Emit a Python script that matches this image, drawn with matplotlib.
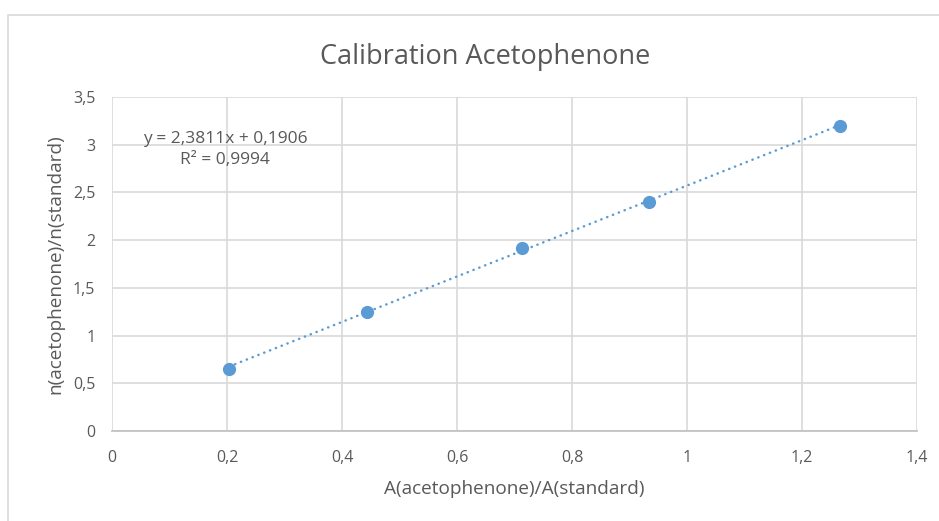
import matplotlib.pyplot as plt
import numpy as np
from matplotlib.ticker import FuncFormatter, MultipleLocator
from matplotlib.patches import Rectangle

plt.rcParams['font.family'] = ['Open Sans', 'DejaVu Sans']

# data
area_ratio = [0.204, 0.443, 0.713, 0.934, 1.266]
mol_ratio = [0.65, 1.25, 1.92, 2.40, 3.20]
slope = 2.3811
intercept = 0.1906
r2 = 0.9994

grey = '#595959'
blue = '#5B9BD5'

def comma(v, pos):
    s = ('%.1f' % v).rstrip('0').rstrip('.')
    return s.replace('.', ',')

fig = plt.figure(figsize=(9.39, 5.21), dpi=100)
ax = fig.add_axes([112/939, 1-431/521, (917-112)/939, (431-97)/521])

# outer chart border (only left/top visible in the crop)
fig.patches.append(Rectangle((8/939, -0.2), 2, 1.2-15/521, transform=fig.transFigure,
                             fill=False, edgecolor='#D9D9D9', linewidth=1.2))

x = np.array(area_ratio)
xs = np.array([x.min(), x.max()])
ax.plot(xs, slope*xs + intercept, linestyle=(0, (0.1, 2.4)), color=blue, linewidth=1.8,
        dash_capstyle='round', zorder=2)
ax.plot(area_ratio, mol_ratio, 'o', color=blue, markersize=8.5, zorder=3)

ax.set_xlim(0, 1.4)
ax.set_ylim(0, 3.5)
ax.xaxis.set_major_locator(MultipleLocator(0.2))
ax.yaxis.set_major_locator(MultipleLocator(0.5))
ax.xaxis.set_major_formatter(FuncFormatter(comma))
ax.yaxis.set_major_formatter(FuncFormatter(comma))
ax.grid(True, color='#D9D9D9', linewidth=1.2)
ax.set_axisbelow(True)
for s in ['top', 'right', 'left']:
    ax.spines[s].set_visible(False)
ax.spines['bottom'].set_color('#BFBFBF')
ax.spines['bottom'].set_linewidth(1.2)
ax.tick_params(length=0, labelsize=11.5, labelcolor=grey)
ax.tick_params(axis='x', pad=14)
ax.tick_params(axis='y', pad=12)

ax.set_xlabel('A(acetophenone)/A(standard)', fontsize=13.7, color=grey, labelpad=10)
ax.set_ylabel('n(acetophenone)/n(standard)', fontsize=13.7, color=grey, labelpad=6)
fig.text(485/939, 1-57/521, 'Calibration Acetophenone', fontsize=19.5, color=grey,
         ha='center', va='center')

eq = 'y = %sx + %s\nR² = %s' % (('%.4f' % slope).replace('.', ','),
                                ('%.4f' % intercept).replace('.', ','),
                                ('%.4f' % r2).replace('.', ','))
ax.text(0.1965, 2.95, eq, fontsize=12.5, color=grey, ha='center', va='center',
        linespacing=1.42)

fig.savefig('out.png', dpi=100)
